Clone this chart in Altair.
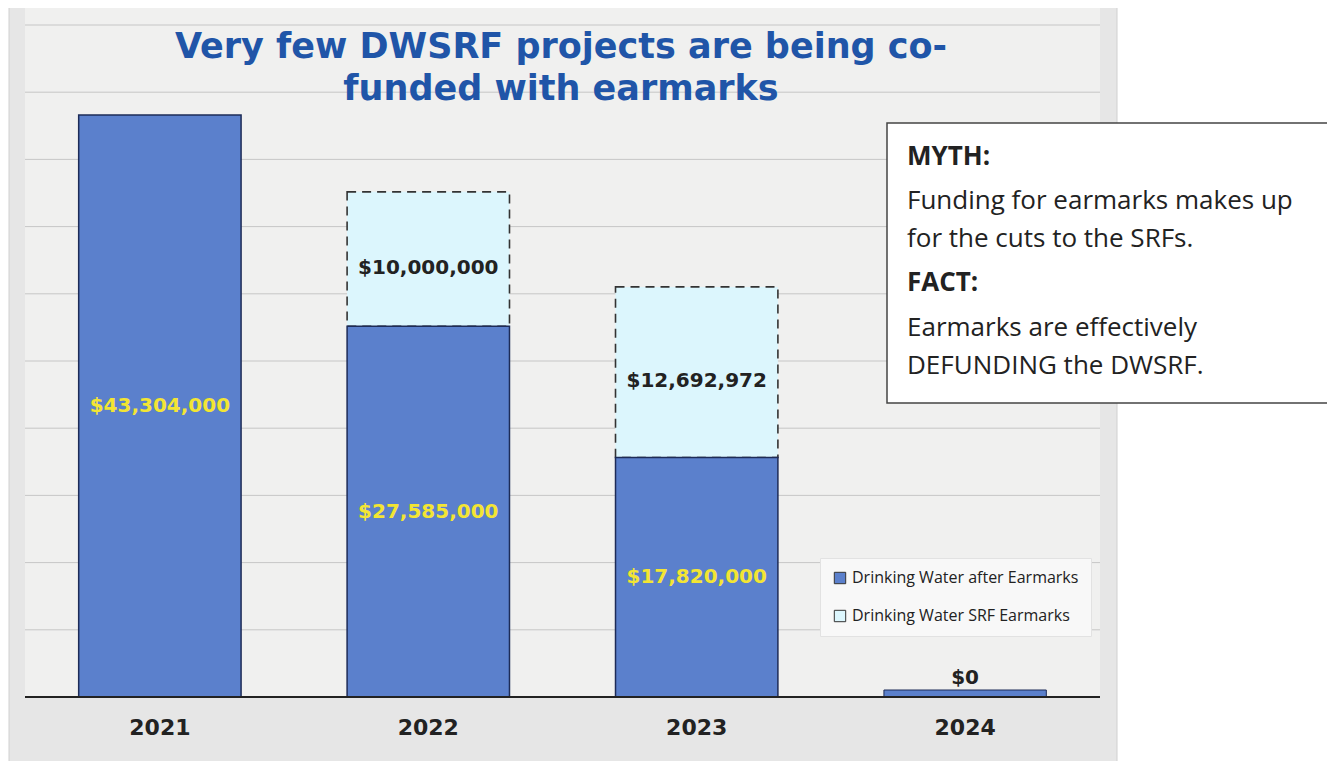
import altair as alt
import pandas as pd

# ---------------- data ----------------
years = ["2021", "2022", "2023", "2024"]
after_earmarks = [43304000, 27585000, 17820000, 0]
srf_earmarks = [0, 10000000, 12692972, 0]
series_names = ["Drinking Water after Earmarks", "Drinking Water SRF Earmarks"]
grid_values = [5e6, 10e6, 15e6, 20e6, 25e6, 30e6, 35e6, 40e6, 45e6, 50e6]
title_lines = ["Very few DWSRF projects are being co-", "funded with earmarks"]
box_lines = [
    ("MYTH:", "bold"),
    ("Funding for earmarks makes up", "normal"),
    ("for the cuts to the SRFs.", "normal"),
    ("FACT:", "bold"),
    ("Earmarks are effectively", "normal"),
    ("DEFUNDING the DWSRF.", "normal"),
]

df = pd.DataFrame({"year": years, "after": after_earmarks, "earmark": srf_earmarks})
df["total"] = df["after"] + df["earmark"]
grid_df = pd.DataFrame({"v": grid_values})
base_df = pd.DataFrame({"v": [0]})
one = pd.DataFrame({"a": [0]})

BLUE = "#5b80cc"
NAVY = "#1d2b57"
CYAN = "#dcf6fd"
YELLOW = "#f3e533"
TITLE_BLUE = "#2055a8"

W, H = 1075, 672

xenc = alt.X(
    "year:N",
    sort=years,
    scale=alt.Scale(paddingInner=0.395, paddingOuter=0.2),
    axis=alt.Axis(
        title=None, labelAngle=0, labelFont="DejaVu Sans", labelFontWeight="bold",
        labelFontSize=22, labelColor="#222222", ticks=False, domain=False,
        labelPadding=20, grid=False, zindex=1,
    ),
)
yscale = alt.Scale(domain=[0, 50e6], nice=False, zero=True)

color_scale = alt.Scale(domain=series_names, range=[BLUE, CYAN])
legend = alt.Legend(
    title=None, orient="none", legendX=795, legendY=533,
    fillColor="#f8f8f8", strokeColor="#e2e2e2", padding=12, rowPadding=22,
    symbolType="square", symbolSize=130, symbolStrokeColor="#333333",
    symbolStrokeWidth=1, labelFont="Open Sans", labelFontSize=16,
    labelColor="#222222", labelLimit=320,
)

base = alt.Chart(df)

# background panel
bg = alt.Chart(one).mark_rect(fill="#e6e6e6", stroke="#d0d0d0", strokeWidth=1).encode(
    x=alt.value(-16), x2=alt.value(1092), y=alt.value(-20), y2=alt.value(745)
)
plot_bg = alt.Chart(one).mark_rect(fill="#f0f0ef").encode(
    x=alt.value(0), x2=alt.value(W), y=alt.value(-19), y2=alt.value(H)
)

grid = alt.Chart(grid_df).mark_rule(color="#c6c6c6", strokeWidth=1).encode(
    y=alt.Y("v:Q", scale=yscale, axis=None)
)

earmark_boxes = base.transform_filter("datum.earmark > 0").transform_calculate(
    series="'" + series_names[1] + "'"
).mark_bar(stroke="#333333", strokeDash=[9, 6], strokeWidth=1.6).encode(
    x=xenc,
    y=alt.Y("after:Q", scale=yscale, axis=None),
    y2="total:Q",
    color=alt.Color("series:N", scale=color_scale, legend=legend),
)

after_bars = base.transform_filter("datum.after > 0").transform_calculate(
    series="'" + series_names[0] + "'"
).mark_bar(stroke=NAVY, strokeWidth=1.5).encode(
    x=xenc,
    y=alt.Y("after:Q", scale=yscale, axis=None),
    color=alt.Color("series:N", scale=color_scale, legend=legend),
)

zero_bar = base.transform_filter("datum.after == 0").mark_bar(
    fill=BLUE, stroke=NAVY, strokeWidth=1, yOffset=-7, y2Offset=0
).encode(
    x=xenc,
    y=alt.Y("after:Q", scale=yscale, axis=None),
    y2=alt.Y2("after:Q"),
)

baseline = alt.Chart(base_df).mark_rule(color="#222222", strokeWidth=2).encode(
    y=alt.Y("v:Q", scale=yscale, axis=None)
)

lbl_font = dict(font="DejaVu Sans", fontWeight="bold", fontSize=20)

after_labels = base.transform_filter("datum.after > 0").transform_calculate(
    mid="datum.after / 2"
).mark_text(color=YELLOW, **lbl_font).encode(
    x=xenc, y=alt.Y("mid:Q", scale=yscale, axis=None),
    text=alt.Text("after:Q", format="$,.0f"),
)

earmark_labels = base.transform_filter("datum.earmark > 0").transform_calculate(
    mid="datum.after + datum.earmark / 2"
).mark_text(color="#222222", dy=9, **lbl_font).encode(
    x=xenc, y=alt.Y("mid:Q", scale=yscale, axis=None),
    text=alt.Text("earmark:Q", format="$,.0f"),
)

zero_labels = base.transform_filter("datum.after == 0").mark_text(
    color="#222222", dy=-19, **lbl_font
).encode(
    x=xenc, y=alt.Y("after:Q", scale=yscale, axis=None),
    text=alt.Text("after:Q", format="$,.0f"),
)

# title
title_layers = []
for i, line in enumerate(title_lines):
    title_layers.append(
        alt.Chart(one).mark_text(
            text=line, font="DejaVu Sans", fontWeight="bold", fontSize=35,
            color=TITLE_BLUE, align="center", baseline="middle",
        ).encode(x=alt.value(536), y=alt.value(22 + 42 * i))
    )

# myth/fact box
box = alt.Chart(one).mark_rect(fill="white", stroke="#444444", strokeWidth=1.5).encode(
    x=alt.value(862), x2=alt.value(1303), y=alt.value(98), y2=alt.value(378)
)
box_y = [132, 176, 214, 258, 303, 341]
box_layers = []
for (txt, wt), yy in zip(box_lines, box_y):
    box_layers.append(
        alt.Chart(one).mark_text(
            text=txt, font="Open Sans", fontWeight=wt, fontSize=26,
            color="#222222", align="left", baseline="middle",
        ).encode(x=alt.value(882), y=alt.value(yy))
    )

chart = alt.layer(
    bg, plot_bg, grid, earmark_boxes, after_bars, zero_bar, baseline,
    after_labels, earmark_labels, zero_labels,
    *title_layers, box, *box_layers,
).properties(
    width=W, height=H,
    autosize=alt.AutoSizeParams(type="none"),
    padding={"left": 17, "top": 17, "right": 1319 - 17 - W, "bottom": 753 - 17 - H},
).configure_view(strokeWidth=0)

chart.save("out.html", embed_options={"renderer": "svg", "actions": False})
